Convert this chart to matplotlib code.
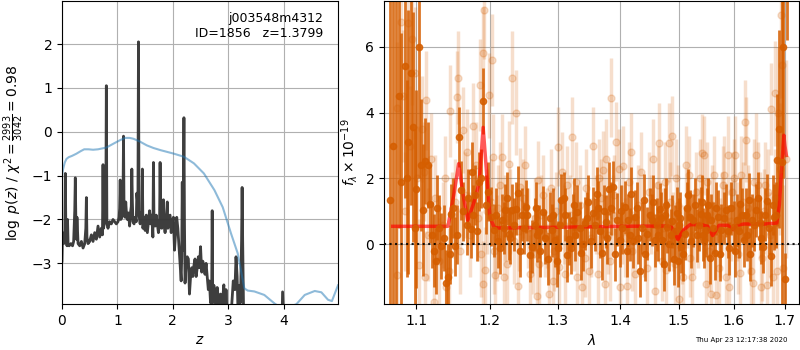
import numpy as np
import matplotlib
matplotlib.use('Agg')
import matplotlib.pyplot as plt
from matplotlib.ticker import NullLocator, FixedLocator, FixedFormatter

# p(z) curve (rows of 10)
z_pz = [0.00, 0.01, 0.03, 0.05, 0.06, 0.07, 0.09, 0.10, 0.11, 0.13,
        0.16, 0.19, 0.21, 0.23, 0.24, 0.25, 0.26, 0.27, 0.29, 0.32,
        0.35, 0.38, 0.41, 0.43, 0.44, 0.45, 0.47, 0.50, 0.53, 0.56,
        0.59, 0.62, 0.65, 0.68, 0.71, 0.73, 0.74, 0.75, 0.77, 0.79,
        0.80, 0.81, 0.83, 0.86, 0.89, 0.92, 0.95, 0.98, 1.01, 1.03,
        1.04, 1.05, 1.06, 1.08, 1.09, 1.10, 1.11, 1.12, 1.14, 1.15,
        1.16, 1.18, 1.20, 1.22, 1.24, 1.25, 1.26, 1.27, 1.28, 1.30,
        1.32, 1.34, 1.35, 1.36, 1.37, 1.38, 1.39, 1.41, 1.43, 1.44,
        1.45, 1.46, 1.48, 1.50, 1.52, 1.54, 1.56, 1.58, 1.60, 1.62,
        1.64, 1.65, 1.66, 1.68, 1.70, 1.72, 1.74, 1.76, 1.77, 1.78,
        1.80, 1.82, 1.83, 1.84, 1.86, 1.88, 1.90, 1.91, 1.93, 1.95,
        1.97, 1.99, 2.01, 2.03, 2.05, 2.07, 2.09, 2.11, 2.13, 2.15,
        2.16, 2.17, 2.18, 2.19, 2.20, 2.21, 2.22, 2.24, 2.26, 2.28,
        2.30, 2.32, 2.34, 2.36, 2.38, 2.40, 2.42, 2.44, 2.46, 2.48,
        2.50, 2.52, 2.54, 2.56, 2.58, 2.60, 2.62, 2.64, 2.66, 2.68,
        2.70, 2.71, 2.72, 2.74, 2.76, 2.78, 2.80, 2.82, 2.84, 2.86,
        2.88, 2.90, 2.92, 2.94, 2.96, 2.98, 3.00, 3.03, 3.06, 3.09,
        3.12, 3.14, 3.16, 3.18, 3.20, 3.22, 3.24, 3.25, 3.26, 3.28,
        3.32, 3.50, 3.80, 3.94, 3.96, 3.98, 4.02, 4.40, 4.98]
lnp_pz = [-2.95, -2.30, -2.55, -2.50, -0.95, -2.30, -2.60, -2.00, -2.55, -2.60,
          -2.55, -2.60, -2.50, -1.80, -1.05, -2.00, -2.45, -1.95, -2.55, -2.60,
          -2.50, -2.65, -2.55, -2.20, -1.50, -2.40, -2.55, -2.50, -2.35, -2.50,
          -2.30, -2.45, -2.15, -2.40, -2.20, -2.35, -0.75, -2.20, -2.00, -1.95,
          1.05, -2.10, -2.20, -2.05, -2.10, -2.00, -2.05, -2.10, -2.05, -1.95,
          -1.75, -1.10, -2.00, -1.95, -1.15, -1.60, -0.10, -1.90, -1.95, -1.60,
          -1.80, -2.00, -1.85, -2.15, -1.80, -1.70, -0.85, -1.60, -2.05, -2.10,
          -1.95, -2.05, -1.40, -1.55, -1.60, 2.05, -1.90, -2.10, -1.85, -2.05,
          -0.85, -2.20, -1.95, -2.25, -1.90, -2.30, -2.05, -1.80, -2.10, -1.90,
          -2.40, -0.70, -2.10, -2.15, -1.90, -2.10, -2.30, -2.10, -0.70, -1.95,
          -2.20, -1.75, -1.55, -2.10, -2.30, -2.00, -1.60, -2.20, -2.05, -1.90,
          -2.30, -2.05, -1.95, -2.70, -2.30, -1.95, -2.20, -2.60, -3.00, -3.40,
          -2.85, -1.15, -2.70, -1.60, 0.32, -2.10, -3.45, -3.00, -2.85, -2.90,
          -3.70, -3.30, -3.10, -3.30, -3.05, -2.90, -3.30, -3.10, -2.85, -3.10,
          -2.62, -3.20, -2.95, -3.05, -3.25, -3.00, -3.30, -3.60, -3.40, -3.90,
          -3.80, -1.80, -3.90, -3.50, -3.70, -4.20, -3.55, -3.80, -4.20, -3.70,
          -4.20, -3.80, -3.49, -4.30, -3.60, -4.20, -4.50, -4.30, -4.00, -3.40,
          -3.60, -2.85, -3.30, -4.30, -3.50, -3.90, -2.50, -1.27, -2.50, -4.50,
          -5.00, -5.00, -5.00, -5.00, -5.00, -3.65, -5.00, -5.00, -5.00]

# prior curve
z_prior = [0.0, 0.02, 0.05, 0.08, 0.12, 0.18, 0.26, 0.34, 0.40, 0.48, 0.56, 0.65, 0.80, 0.93, 1.05, 1.14,
           1.22, 1.29, 1.40, 1.53, 1.65, 1.78, 1.90, 2.02, 2.20, 2.38, 2.56, 2.75, 2.90, 3.05, 3.17, 3.29,
           3.35, 3.47, 3.65, 3.84, 4.00, 4.23, 4.38, 4.56, 4.68, 4.80, 4.87, 4.98]
lnp_prior = [-0.99, -0.85, -0.70, -0.62, -0.58, -0.55, -0.50, -0.44, -0.40, -0.40, -0.41, -0.40, -0.36, -0.27,
             -0.19, -0.14, -0.14, -0.16, -0.22, -0.31, -0.37, -0.42, -0.46, -0.50, -0.57, -0.72, -0.95, -1.33,
             -1.72, -2.32, -2.77, -3.57, -3.62, -3.64, -3.72, -3.92, -4.05, -3.93, -3.72, -3.63, -3.66, -3.83,
             -3.86, -3.50]

# spectrum, strong points (beam A)
wave_d = [1.066, 1.074, 1.081, 1.085, 1.090, 1.096, 1.100, 1.104, 1.1086, 1.1113, 1.1149, 1.1186, 1.1231,
          1.1276, 1.133, 1.1389, 1.1421, 1.1466, 1.1511, 1.157, 1.1602, 1.1674, 1.1729, 1.1747, 1.1792,
          1.1842, 1.191, 1.1941, 1.2009,
          1.2059, 1.2110, 1.2172, 1.2222, 1.2271, 1.232, 1.2369, 1.2404, 1.2468, 1.2517, 1.2581, 1.2616,
          1.2650, 1.269, 1.2735, 1.2778, 1.2847, 1.2880, 1.2911, 1.2961, 1.3010, 1.3059, 1.3094, 1.3143,
          1.3182, 1.3232, 1.3270, 1.3305, 1.3369, 1.3429, 1.3478, 1.3552, 1.3616,
          1.3642, 1.37, 1.3757, 1.3815, 1.3873, 1.3948, 1.3988, 1.4030, 1.4075, 1.4133, 1.4179, 1.4249,
          1.4290, 1.4324, 1.4393, 1.4451, 1.4490, 1.4526, 1.4584, 1.4620, 1.4665, 1.4711, 1.4760, 1.4798,
          1.4855, 1.4913, 1.496, 1.5000, 1.5046, 1.5116, 1.5150, 1.5191, 1.526, 1.5318, 1.5393,
          1.5440, 1.5484, 1.5530, 1.5581, 1.5645, 1.571, 1.5774, 1.5858, 1.5923, 1.6, 1.6065, 1.6129,
          1.6194, 1.6240, 1.629, 1.6355, 1.6439, 1.6503, 1.6568, 1.6645, 1.6723, 1.6787, 1.6852, 1.6935,
          1.700, 1.705]
flux_d = [1.36, 8.00, 1.90, 5.40, 3.10, 3.56, 1.69, 6.00, 1.04, 2.53, 2.40, 1.24, -0.19,
          1.12, -0.06, -1.18, -0.98, 0.93, -0.06, 3.26, 1.64, 0.58, 0.48, 2.20, 1.50,
          1.90, 4.34, 1.21, 0.84,
          0.43, 0.10, 0.74, 1.04, 0.33, 1.04, 1.09, 1.57, 0.90, 1.14, -0.33, -0.07,
          0.60, 0.28, -0.20, 0.98, -0.43, 0.80, 0.43, 0.13, -0.10, 1.35, 1.40, -0.33,
          0.18, 0.74, 0.30, 0.99, -0.27, 0.64, 1.30, 0.94, 1.54,
          1.12, -0.27, 0.69, 1.69, 1.74, 0.75, 0.13, 0.50, 1.13, 0.73, 1.54, 0.84,
          0.20, -0.80, 1.34, 0.33, 0.90, 0.74, 0.13, 0.60, 1.06, 0.13, 0.90, 0.53,
          0.28, -0.43, 0.95, 0.60, -0.07, 0.33, 1.10, 0.84, 0.73, 0.28, 0.93,
          0.30, 0.43, 1.20, 0.74, -0.27, 0.84, 0.43, 1.04, -0.12, 0.53, 0.73, 1.22,
          0.13, 0.90, 1.36, 0.73, 1.04, 0.64, -0.07, 1.33, -0.36, 0.84, 2.55, 2.50,
          -1.06, 9.00]
err_d = [10.0, 10.0, 4.5, 4.0, 4.0, 3.5, 3.0, 4.0, 2.0, 1.3, 1.3, 1.2, 1.1,
         1.0, 1.0, 1.0, 1.0, 0.9, 0.9, 0.9, 0.9, 0.9, 0.9, 0.9, 0.9,
         0.9, 1.0, 0.9, 0.9,
         0.8, 0.8, 0.8, 0.8, 0.8, 0.8, 0.8, 0.8, 0.8, 0.8, 0.8, 0.8,
         0.8, 0.8, 0.8, 0.8, 0.8, 0.8, 0.8, 0.8, 0.8, 0.8, 0.8, 0.8,
         0.8, 0.8, 0.8, 0.8, 0.8, 0.8, 0.8, 0.8, 0.8,
         0.8, 0.8, 0.8, 0.8, 0.8, 0.8, 0.8, 0.8, 0.8, 0.8, 0.8, 0.8,
         0.8, 0.8, 0.8, 0.8, 0.8, 0.8, 0.8, 0.8, 0.8, 0.8, 0.8, 0.8,
         0.8, 0.8, 0.8, 0.8, 0.8, 0.8, 0.8, 0.8, 0.8, 0.8, 0.8,
         0.8, 0.8, 0.8, 0.8, 0.8, 0.8, 0.8, 0.8, 0.8, 0.8, 0.8, 0.8,
         0.8, 0.8, 0.8, 0.8, 0.8, 0.8, 0.8, 0.8, 0.9, 1.0, 2.0, 5.0,
         0.8, 2.8]

# spectrum, strong points (beam B, rows of 10)
wave_d2 = [1.070, 1.078, 1.088, 1.093, 1.098, 1.106, 1.1205, 1.1255, 1.1305, 1.1365,
           1.1445, 1.149, 1.1545, 1.163, 1.170, 1.177, 1.182, 1.187, 1.197, 1.2085,
           1.2145, 1.2195, 1.2245, 1.2295, 1.2345, 1.2435, 1.2490, 1.2545, 1.2670, 1.2715,
           1.2805, 1.2935, 1.2985, 1.3035, 1.3120, 1.3205, 1.3250, 1.3340, 1.3400, 1.3455,
           1.3520, 1.3585, 1.3670, 1.3730, 1.3785, 1.3845, 1.3905, 1.4010, 1.4105, 1.4155,
           1.4215, 1.4270, 1.4360, 1.4420, 1.4555, 1.4640, 1.4690, 1.4735, 1.4780, 1.4825,
           1.4885, 1.4935, 1.4980, 1.5025, 1.5080, 1.5170, 1.5225, 1.5290, 1.5355, 1.5420,
           1.5460, 1.5505, 1.5555, 1.5615, 1.5675, 1.5740, 1.5815, 1.5890, 1.5960, 1.6030,
           1.6095, 1.6160, 1.6265, 1.6320, 1.6395, 1.6470, 1.6535, 1.6605, 1.6685, 1.6755,
           1.6820, 1.6890, 1.6965]
flux_d2 = [3.0, 4.5, 2.0, 5.2, 0.5, 2.4, 0.3, -0.5, 0.5, 0.2,
           -0.3, 1.1, 0.3, 1.0, 1.4, 0.9, 0.4, 2.0, 1.6, 0.9,
           -0.1, 0.5, 1.4, 0.2, 0.6, -0.2, 0.5, 0.9, 1.1, 0.4,
           0.2, 0.9, -0.5, 0.6, 0.9, -0.1, 1.2, 0.5, 0.0, 0.8,
           0.1, 0.6, 0.4, 1.0, 0.2, 1.1, -0.3, 1.0, -0.2, 0.3,
           0.1, 1.1, 0.5, -0.3, 1.3, 0.3, 0.8, -0.6, 1.2, 0.0,
           0.7, 0.4, -0.5, 0.8, -0.3, 1.5, 0.1, 1.2, 0.6, 1.3,
           0.1, 0.9, -0.4, 0.5, 1.1, -0.3, 0.8, 0.4, 1.1, -0.2,
           0.4, 0.9, 0.3, -0.3, 0.6, 1.4, 0.2, 0.9, 0.5, 1.2,
           0.9, 3.5, 6.0]
err_d2 = [5.0, 4.0, 3.0, 4.0, 3.0, 2.0, 1.0, 1.0, 1.0, 1.0,
          0.9, 0.9, 0.9, 0.9, 0.9, 0.9, 0.9, 0.9, 0.9, 0.8,
          0.8, 0.8, 0.8, 0.8, 0.8, 0.8, 0.8, 0.8, 0.8, 0.8,
          0.8, 0.8, 0.8, 0.8, 0.8, 0.8, 0.8, 0.8, 0.8, 0.8,
          0.8, 0.8, 0.8, 0.8, 0.8, 0.8, 0.8, 0.8, 0.8, 0.8,
          0.8, 0.8, 0.8, 0.8, 0.8, 0.8, 0.8, 0.8, 0.8, 0.8,
          0.8, 0.8, 0.8, 0.8, 0.8, 0.8, 0.8, 0.8, 0.8, 0.8,
          0.8, 0.8, 0.8, 0.8, 0.8, 0.8, 0.8, 0.8, 0.8, 0.8,
          0.8, 0.8, 0.8, 0.8, 0.8, 0.8, 0.8, 0.8, 0.8, 0.9,
          1.0, 3.0, 4.0]

# spectrum, faint points (beam A)
wave_l = [1.075, 1.075, 1.080, 1.089, 1.092, 1.095, 1.101, 1.104, 1.110, 1.112, 1.113, 1.124, 1.125, 1.135,
          1.140, 1.145, 1.148, 1.154, 1.156, 1.163, 1.165, 1.172, 1.180, 1.186, 1.190, 1.191, 1.192, 1.193,
          1.196, 1.199, 1.203, 1.204, 1.208, 1.210, 1.215, 1.218, 1.222, 1.224, 1.227, 1.232, 1.235, 1.237,
          1.240, 1.244, 1.248, 1.255, 1.262, 1.268, 1.270, 1.275, 1.280, 1.287, 1.290, 1.295, 1.300, 1.302,
          1.310, 1.315, 1.322, 1.325, 1.330, 1.335, 1.342, 1.349, 1.356, 1.360, 1.365, 1.371, 1.374, 1.380,
          1.385, 1.390, 1.393, 1.400, 1.403, 1.405, 1.411, 1.415, 1.420, 1.430, 1.440, 1.448, 1.455, 1.459,
          1.462, 1.466, 1.470, 1.475, 1.478, 1.482, 1.488, 1.490, 1.495, 1.501, 1.505, 1.512, 1.515, 1.520,
          1.524, 1.530, 1.535, 1.542, 1.545, 1.548, 1.550, 1.555, 1.560, 1.568, 1.575, 1.580, 1.586, 1.589,
          1.595, 1.600, 1.603, 1.608, 1.612, 1.618, 1.622, 1.624, 1.630, 1.637, 1.640, 1.646, 1.650, 1.655,
          1.660, 1.664, 1.670, 1.673, 1.680, 1.681, 1.684, 1.690, 1.693, 1.694, 1.702]
flux_l = [4.15, -0.93, 6.73, 6.70, 3.00, 6.24, 2.00, -0.63, 2.20, -0.98, 4.37, -1.74, 1.40, 0.60,
          -1.30, 4.04, 0.90, 4.47, 5.06, 3.46, 1.50, 0.30, 2.40, 4.83, -1.20, 5.79, 7.12, -0.78,
          1.00, 4.52, 5.60, 2.66, -0.93, 0.20, 1.80, 2.66, 0.80, -0.58, 2.45, 5.06, 0.10, 4.00,
          -1.26, 1.73, 1.40, 0.50, -0.30, -1.57, 1.95, 0.90, 0.20, -1.50, 1.70, -0.20, 2.96, -0.68,
          0.60, 1.80, 3.26, 0.40, -0.98, 1.20, -0.40, -0.80, 2.98, 0.90, 2.00, 2.25, -1.20, 0.30,
          4.45, 1.50, 3.11, -1.28, 0.60, 2.38, -1.26, 1.90, -0.20, 1.20, 0.20, 1.60, 2.60, -1.40,
          0.70, 3.09, -0.50, 1.90, -0.78, 3.08, 3.29, 0.40, 2.00, -1.64, 0.00, 2.40, 1.10, -0.40,
          -0.98, 1.60, 0.50, 2.76, 2.70, -1.20, 1.90, -0.20, 1.20, -1.54, 0.20, 1.80, -0.98, 2.70,
          0.70, 2.00, 2.70, -0.30, -0.88, 1.30, 3.70, 3.18, 0.40, -1.16, 1.90, 1.80, 0.90, -0.40,
          1.80, -1.23, 0.30, 4.10, 1.40, 4.58, -0.80, 2.30, 6.95, 5.43, 2.60]
err_l = [2.0, 1.5, 2.2, 2.0, 1.8, 2.0, 1.6, 1.4, 1.5, 1.4, 1.5, 1.3, 1.3, 1.3,
         1.3, 1.4, 1.3, 1.4, 1.4, 1.3, 1.3, 1.3, 1.3, 1.4, 1.3, 1.4, 1.5, 1.3,
         1.3, 1.3, 1.4, 1.3, 1.3, 1.3, 1.3, 1.3, 1.3, 1.3, 1.3, 1.4, 1.3, 1.3,
         1.3, 1.2, 1.2, 1.2, 1.2, 1.2, 1.2, 1.2, 1.2, 1.2, 1.2, 1.2, 1.2, 1.2,
         1.2, 1.2, 1.2, 1.2, 1.2, 1.2, 1.2, 1.2, 1.2, 1.2, 1.2, 1.2, 1.2, 1.2,
         1.2, 1.2, 1.2, 1.2, 1.2, 1.2, 1.2, 1.2, 1.2, 1.2, 1.2, 1.2, 1.2, 1.2,
         1.2, 1.2, 1.2, 1.2, 1.2, 1.2, 1.2, 1.2, 1.2, 1.2, 1.2, 1.2, 1.2, 1.2,
         1.2, 1.2, 1.2, 1.2, 1.2, 1.2, 1.2, 1.2, 1.2, 1.2, 1.2, 1.2, 1.2, 1.2,
         1.2, 1.2, 1.2, 1.2, 1.2, 1.2, 1.3, 1.3, 1.3, 1.3, 1.3, 1.3, 1.3, 1.3,
         1.3, 1.3, 1.3, 1.4, 1.5, 1.6, 1.6, 2.0, 2.5, 2.5, 3.0]

# spectrum, faint points (beam B, rows of 10)
wave_l2 = [1.083, 1.086, 1.098, 1.107, 1.116, 1.120, 1.130, 1.138, 1.143, 1.151,
           1.159, 1.168, 1.176, 1.183, 1.188, 1.201, 1.206, 1.212, 1.220, 1.229,
           1.242, 1.251, 1.258, 1.265, 1.272, 1.278, 1.284, 1.293, 1.298, 1.306,
           1.312, 1.319, 1.328, 1.338, 1.345, 1.352, 1.363, 1.368, 1.377, 1.383,
           1.388, 1.397, 1.408, 1.418, 1.425, 1.435, 1.444, 1.451, 1.464, 1.472,
           1.485, 1.493, 1.498, 1.508, 1.518, 1.527, 1.538, 1.552, 1.558, 1.564,
           1.572, 1.578, 1.583, 1.592, 1.598, 1.606, 1.615, 1.627, 1.633, 1.643,
           1.652, 1.658, 1.667, 1.676, 1.687, 1.697]
flux_l2 = [4.5, 1.0, 5.2, 3.5, 0.3, 2.6, -0.5, 2.0, -0.8, 1.3,
           -0.2, 2.8, 3.6, 0.8, -0.3, 1.3, -0.2, 1.1, -1.0, 1.0,
           0.4, 2.4, -0.9, 0.8, -0.6, 1.5, 0.5, -1.1, 1.0, 2.2,
           -0.9, 0.9, 1.9, -1.3, 1.7, 0.2, -0.9, 1.4, 2.6, -0.5,
           0.9, 2.3, 0.2, 2.8, -0.9, 2.2, -0.7, 0.9, 1.8, 0.5,
           1.3, -0.6, 1.2, -1.0, 2.1, 0.3, 2.0, 0.8, -1.5, 2.1,
           -0.7, 1.0, 2.1, -1.3, 1.6, 0.7, 2.1, 1.1, -0.8, 2.7,
           -1.3, 1.0, 1.6, -1.0, 4.0, -0.7]
err_l2 = [2.0, 1.8, 2.0, 1.6, 1.4, 1.4, 1.3, 1.3, 1.3, 1.3,
          1.3, 1.3, 1.3, 1.3, 1.3, 1.3, 1.3, 1.3, 1.3, 1.3,
          1.2, 1.2, 1.2, 1.2, 1.2, 1.2, 1.2, 1.2, 1.2, 1.2,
          1.2, 1.2, 1.2, 1.2, 1.2, 1.2, 1.2, 1.2, 1.2, 1.2,
          1.2, 1.2, 1.2, 1.2, 1.2, 1.2, 1.2, 1.2, 1.2, 1.2,
          1.2, 1.2, 1.2, 1.2, 1.2, 1.2, 1.2, 1.2, 1.2, 1.2,
          1.2, 1.2, 1.2, 1.2, 1.2, 1.2, 1.2, 1.3, 1.3, 1.3,
          1.3, 1.3, 1.3, 1.4, 2.0, 2.5]

# best-fit model
wave_m = [1.070, 1.142, 1.150, 1.1566, 1.162, 1.169, 1.178, 1.185, 1.1905, 1.196, 1.200, 1.206, 1.212,
          1.300, 1.400, 1.480, 1.487, 1.493, 1.4983, 1.503, 1.5087, 1.520, 1.540, 1.552, 1.557, 1.561,
          1.566, 1.573, 1.590, 1.596, 1.600, 1.605, 1.620, 1.660, 1.684, 1.689, 1.693, 1.698, 1.700, 1.703]
flux_m = [0.55, 0.55, 1.50, 2.45, 1.60, 0.73, 1.30, 1.87, 3.55, 2.00, 0.84, 0.52, 0.50,
          0.52, 0.55, 0.56, 0.52, 0.35, 0.15, 0.30, 0.45, 0.60, 0.60, 0.55, 0.40, 0.27,
          0.40, 0.58, 0.58, 0.48, 0.45, 0.58, 0.62, 0.62, 0.65, 1.20, 2.20, 3.31, 3.00, 2.70]

xticks_r = [1.1, 1.2, 1.3, 1.4, 1.5, 1.6, 1.7]
color_g141 = (0.8353, 0.3686, 0.0)

fig = plt.figure(figsize=(8, 3.5), dpi=100)

# left: redshift probability
ax = fig.add_axes([0.0775, 0.131, 0.345, 0.866])
ax.plot(z_pz, lnp_pz, color='0.2', lw=2, alpha=0.95)
ax.plot(z_prior, lnp_prior, color='tab:blue', lw=1.5, alpha=0.5)
ax.set_xlim(0, 4.98)
ax.set_ylim(-3.93, 2.98)
ax.set_xticks([0, 1, 2, 3, 4])
ax.set_yticks([-3, -2, -1, 0, 1, 2])
ax.grid()
ax.set_xlabel(r'$z$')
ax.set_ylabel(r'$\log\ p(z)$' + ' / ' + r'$\chi^2=\frac{2993}{3042}=0.98$')
ax.text(0.945, 0.965, 'j003548m4312\nID=1856   z=1.3799', ha='right', va='top',
        transform=ax.transAxes, fontsize=9)

# right: 1D spectrum
ax2 = fig.add_axes([0.48, 0.131, 0.519, 0.866])
ax2.set_xscale('log')
for w, f, e in [(wave_l, flux_l, err_l), (wave_l2, flux_l2, err_l2)]:
    ax2.errorbar(w, f, yerr=e, color=color_g141, alpha=0.2, marker='o', ms=5,
                 linestyle='None', elinewidth=2.5, capsize=0)
for w, f, e in [(wave_d, flux_d, err_d), (wave_d2, flux_d2, err_d2)]:
    ax2.errorbar(w, f, yerr=e, color=color_g141, alpha=0.85, marker='o', ms=4.5,
                 linestyle='None', elinewidth=2, capsize=0)
ax2.plot(wave_m, flux_m, color='r', lw=2.5, alpha=0.65)
ax2.axhline(0, color='k', linestyle=':', lw=1.5, alpha=0.9)
ax2.set_xlim(1.059, 1.729)
ax2.set_ylim(-1.81, 7.38)
ax2.xaxis.set_major_locator(FixedLocator(xticks_r))
ax2.xaxis.set_major_formatter(FixedFormatter(['%.1f' % t for t in xticks_r]))
ax2.xaxis.set_minor_locator(NullLocator())
ax2.set_yticks([0, 2, 4, 6])
ax2.grid()
ax2.set_xlabel(r'$\lambda$')
ax2.set_ylabel(r'$f_\lambda\times10^{-19}$')

fig.text(0.984, 0.02, 'Thu Apr 23 12:17:38 2020', ha='right', va='bottom', fontsize=5)

fig.savefig('out.png', dpi=100)
